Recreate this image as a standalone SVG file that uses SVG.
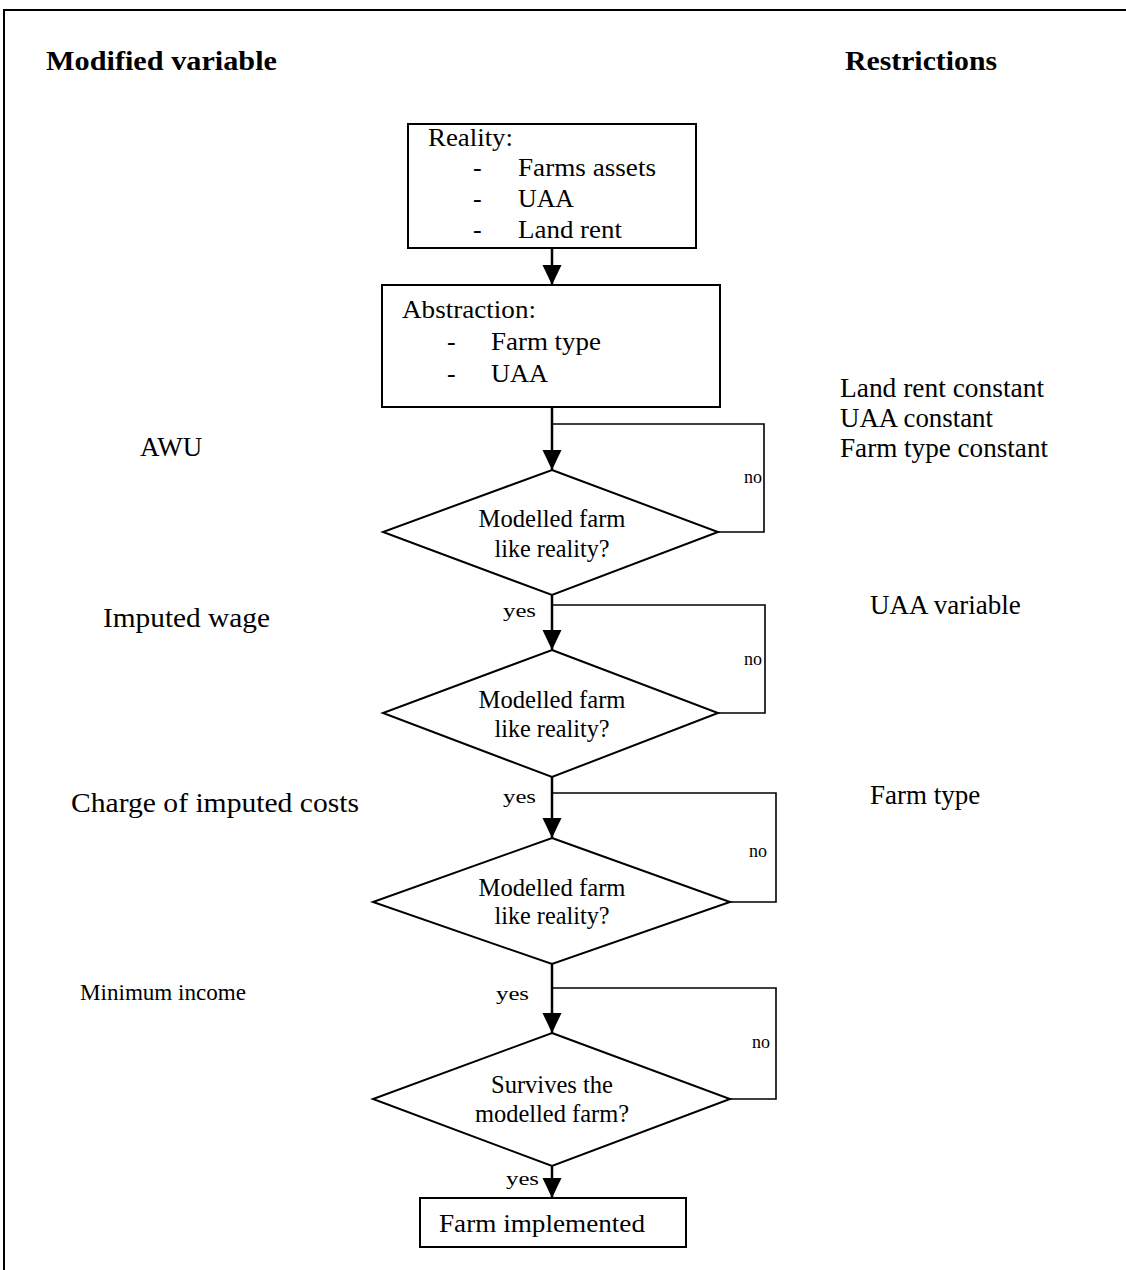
<svg xmlns="http://www.w3.org/2000/svg" width="1126" height="1270" viewBox="0 0 1126 1270">
<defs>
<style>
text{font-family:"Liberation Serif","Times New Roman",serif;fill:#000}
.h{font-weight:bold;font-size:28px}
.bx{font-size:26px}
.dm{font-size:25px;text-anchor:middle}
.lab{font-size:27px}
.sm{font-size:18px}
.shape{fill:#fff;stroke:#000;stroke-width:2}
.main{stroke:#000;stroke-width:2.5;fill:none}
.loop{stroke:#000;stroke-width:1.6;fill:none}
</style>
<marker id="ah" markerUnits="userSpaceOnUse" markerWidth="20" markerHeight="20" refX="20" refY="9.5" orient="auto">
<path d="M0,0 L20,9.5 L0,19 z" fill="#000"/>
</marker>
</defs>
<rect width="1126" height="1270" fill="#fff"/>
<rect x="4" y="10" width="1140" height="1280" fill="none" stroke="#000" stroke-width="2"/>

<text class="h" x="46" y="70" textLength="231" lengthAdjust="spacingAndGlyphs">Modified variable</text>
<text class="h" x="845" y="70" textLength="152" lengthAdjust="spacingAndGlyphs">Restrictions</text>

<g id="connectors">
<line class="main" x1="552" y1="248" x2="552" y2="285" marker-end="url(#ah)"/>
<line class="main" x1="552" y1="407" x2="552" y2="470" marker-end="url(#ah)"/>
<polyline class="loop" points="718,532 764,532 764,424 552,424"/>
<line class="main" x1="552" y1="595" x2="552" y2="650" marker-end="url(#ah)"/>
<polyline class="loop" points="718,713 765,713 765,605 552,605"/>
<line class="main" x1="552" y1="777" x2="552" y2="838" marker-end="url(#ah)"/>
<polyline class="loop" points="730,902 776,902 776,793 552,793"/>
<line class="main" x1="552" y1="964" x2="552" y2="1033" marker-end="url(#ah)"/>
<polyline class="loop" points="730,1099 776,1099 776,988 552,988"/>
<line class="main" x1="552" y1="1166" x2="552" y2="1198" marker-end="url(#ah)"/>
<text class="sm" x="762" y="483" text-anchor="end">no</text>
<text class="sm" x="762" y="665" text-anchor="end">no</text>
<text class="sm" x="767" y="857" text-anchor="end">no</text>
<text class="sm" x="770" y="1048" text-anchor="end">no</text>
<text class="sm" x="503" y="617" textLength="33" lengthAdjust="spacingAndGlyphs">yes</text>
<text class="sm" x="503" y="803" textLength="33" lengthAdjust="spacingAndGlyphs">yes</text>
<text class="sm" x="496" y="1000" textLength="33" lengthAdjust="spacingAndGlyphs">yes</text>
<text class="sm" x="506" y="1185" textLength="33" lengthAdjust="spacingAndGlyphs">yes</text>
</g>

<g id="reality">
<rect class="shape" x="408" y="124" width="288" height="124"/>
<text class="bx" x="428" y="146" textLength="85" lengthAdjust="spacingAndGlyphs">Reality:</text>
<text class="bx" x="473" y="176">-</text>
<text class="bx" x="518" y="176" textLength="138" lengthAdjust="spacingAndGlyphs">Farms assets</text>
<text class="bx" x="473" y="207">-</text>
<text class="bx" x="518" y="207" textLength="56" lengthAdjust="spacingAndGlyphs">UAA</text>
<text class="bx" x="473" y="238">-</text>
<text class="bx" x="518" y="238" textLength="104" lengthAdjust="spacingAndGlyphs">Land rent</text>
</g>

<g id="abstraction">
<rect class="shape" x="382" y="285" width="338" height="122"/>
<text class="bx" x="402" y="318" textLength="134" lengthAdjust="spacingAndGlyphs">Abstraction:</text>
<text class="bx" x="447" y="350">-</text>
<text class="bx" x="491" y="350" textLength="110" lengthAdjust="spacingAndGlyphs">Farm type</text>
<text class="bx" x="447" y="382">-</text>
<text class="bx" x="491" y="382" textLength="57" lengthAdjust="spacingAndGlyphs">UAA</text>
</g>

<g id="decision1">
<polygon class="shape" points="552,470 718,532 552,595 383,532"/>
<text class="dm" x="552" y="527" textLength="147" lengthAdjust="spacingAndGlyphs">Modelled farm</text>
<text class="dm" x="552" y="557" textLength="115" lengthAdjust="spacingAndGlyphs">like reality?</text>
</g>

<g id="decision2">
<polygon class="shape" points="552,650 718,713 552,777 383,713"/>
<text class="dm" x="552" y="708" textLength="147" lengthAdjust="spacingAndGlyphs">Modelled farm</text>
<text class="dm" x="552" y="737" textLength="115" lengthAdjust="spacingAndGlyphs">like reality?</text>
</g>

<g id="decision3">
<polygon class="shape" points="552,838 730,902 552,964 373,902"/>
<text class="dm" x="552" y="896" textLength="147" lengthAdjust="spacingAndGlyphs">Modelled farm</text>
<text class="dm" x="552" y="924" textLength="115" lengthAdjust="spacingAndGlyphs">like reality?</text>
</g>

<g id="decision4">
<polygon class="shape" points="552,1033 730,1099 552,1166 373,1099"/>
<text class="dm" x="552" y="1093" textLength="122" lengthAdjust="spacingAndGlyphs">Survives the</text>
<text class="dm" x="552" y="1122" textLength="154" lengthAdjust="spacingAndGlyphs">modelled farm?</text>
</g>

<g id="implemented">
<rect class="shape" x="420" y="1198" width="266" height="49"/>
<text class="bx" x="439" y="1232" textLength="206" lengthAdjust="spacingAndGlyphs">Farm implemented</text>
</g>

<g id="left-labels">
<text class="lab" x="140" y="456">AWU</text>
<text class="lab" x="103" y="627" textLength="167" lengthAdjust="spacingAndGlyphs">Imputed wage</text>
<text class="lab" x="71" y="812" textLength="288" lengthAdjust="spacingAndGlyphs">Charge of imputed costs</text>
<text class="lab" x="80" y="1000" style="font-size:24px" textLength="166" lengthAdjust="spacingAndGlyphs">Minimum income</text>
</g>

<g id="right-labels">
<text class="lab" x="840" y="397" textLength="204" lengthAdjust="spacingAndGlyphs">Land rent constant</text>
<text class="lab" x="840" y="427" textLength="153" lengthAdjust="spacingAndGlyphs">UAA constant</text>
<text class="lab" x="840" y="457" textLength="208" lengthAdjust="spacingAndGlyphs">Farm type constant</text>
<text class="lab" x="870" y="614">UAA variable</text>
<text class="lab" x="870" y="804">Farm type</text>
</g>
</svg>
